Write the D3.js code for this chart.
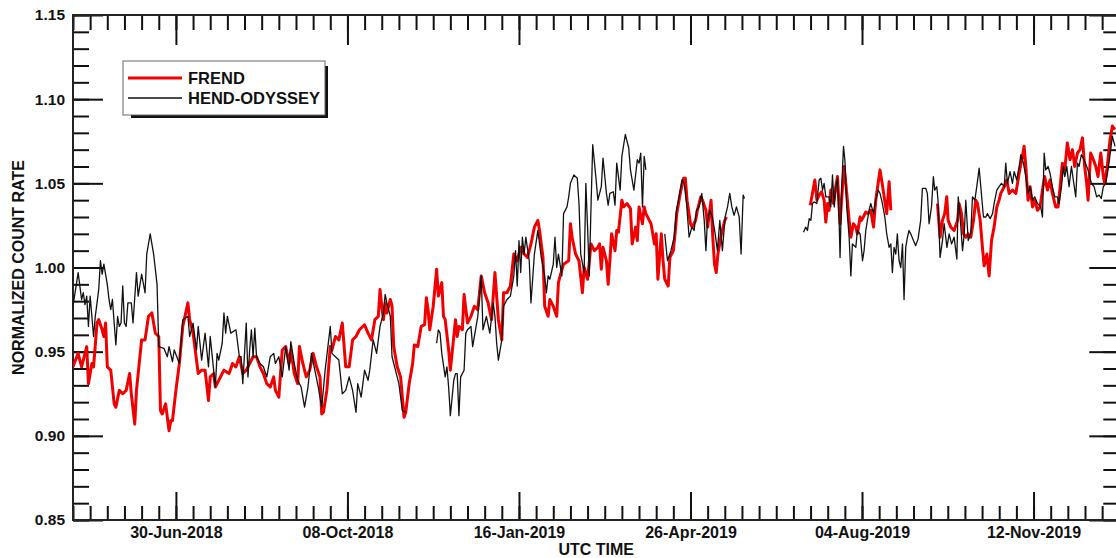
<!DOCTYPE html>
<html>
<head>
<meta charset="utf-8">
<script src="https://cdn.jsdelivr.net/npm/d3@7"></script>
<style>
  body { margin: 0; background: #fff; }
  svg { display: block; font-family: "Liberation Sans", Arial, sans-serif; font-weight: bold; }
</style>
</head>
<body>
<svg width="1116" height="558"></svg>
<script>
// time range of the plot, days counted from startDay
const startDay = "2018-05-01";
const endDay = "2020-01-01";
const dateTicks = ["2018-06-30", "2018-10-08", "2019-01-16", "2019-04-26", "2019-08-04", "2019-11-12"];
const rateTicks = [0.85, 0.9, 0.95, 1.0, 1.05, 1.1, 1.15];

// [day, rate], [day, null] marks a data gap
const frend = [
  [0,0.941],[3,0.949],[5,0.941],[8,0.953],[9,0.931],[11,0.943],[12,0.941],[14,0.967],[15,0.969],[17,0.963],
  [18,0.959],[19,0.967],[20,0.941],[22,0.939],[24,0.919],[25,0.917],[27,0.927],[29,0.925],[31,0.927],[33,0.937],
  [34,0.925],[36,0.907],[37,0.927],[38,0.937],[40,0.957],[42,0.957],[44,0.971],[46,0.973],[48,0.961],[50,0.959],
  [51,0.915],[52,0.913],[54,0.919],[56,0.903],[57,0.909],[58,0.909],[60,0.927],[62,0.943],[64,0.965],[67,0.979],
  [68,0.969],[70,0.961],[73,0.937],[75,0.939],[77,0.939],[79,0.921],[80,0.935],[82,0.937],[83,0.929],[85,0.933],
  [88,0.939],[91,0.937],[93,0.943],[95,0.941],[97,0.947],[99,0.937],[101,0.939],[103,0.943],[105,0.947],[107,0.947],
  [109,0.941],[111,0.937],[113,0.931],[115,0.929],[117,0.935],[118,0.927],[120,0.923],[122,0.951],[124,0.953],[126,0.943],
  [127,0.951],[129,0.937],[131,0.931],[132,0.953],[134,0.943],[136,0.935],[138,0.939],[140,0.949],[142,0.941],[144,0.935],
  [145,0.913],[146,0.914],[148,0.927],[150,0.953],[151,0.951],[153,0.959],[155,0.957],[157,0.967],[159,0.941],[161,0.941],
  [163,0.957],[165,0.959],[167,0.963],[170,0.966],[172,0.961],[174,0.957],[176,0.969],[178,0.971],[179,0.987],[180,0.977],
  [181,0.969],[182,0.979],[183,0.973],[185,0.981],[186,0.977],[187,0.953],[189,0.941],[191,0.935],[193,0.911],[194,0.914],
  [196,0.931],[198,0.943],[199,0.954],[201,0.953],[203,0.965],[205,0.966],[206,0.982],[207,0.975],[208,0.963],[210,0.977],
  [212,0.999],[213,0.983],[215,0.991],[216,0.971],[217,0.969],[219,0.951],[220,0.939],[221,0.949],[223,0.969],[224,0.959],
  [225,0.965],[227,0.963],[228,0.984],[230,0.967],[232,0.971],[234,0.977],[236,0.975],[238,0.995],[240,0.985],[242,0.979],
  [244,0.969],[246,0.997],[248,0.969],[250,0.957],[251,0.985],[253,0.985],[255,0.989],[257,1.008],[259,1.004],[261,1.012],
  [263,1.008],[265,1.006],[267,1.014],[269,1.024],[271,1.028],[272,1.022],[274,1.006],[275,0.977],[277,0.971],[278,0.981],
  [280,0.977],[282,0.971],[283,0.991],[284,0.995],[286,1.002],[289,1.004],[290,1.026],[291,1.018],[293,1.008],[295,1.004],
  [297,0.985],[298,1.0],[300,0.993],[302,1.014],[304,1.01],[306,1.012],[307,1.014],[308,0.999],[309,1.012],[311,1.004],
  [312,0.99],[313,1.004],[314,1.02],[316,1.01],[317,1.022],[318,1.021],[320,1.04],[321,1.036],[323,1.038],[325,1.035],
  [326,1.014],[328,1.024],[329,1.016],[330,1.036],[332,1.026],[333,1.036],[334,1.032],[336,1.028],[337,1.026],[339,1.014],
  [340,1.02],[341,0.993],[343,1.02],[344,1.004],[345,0.993],[347,0.989],[348,1.006],[350,1.01],[351,1.02],[352,1.032],
  [354,1.044],[356,1.053],[357,1.053],[358,1.04],[360,1.026],[361,1.024],[363,1.028],[364,1.034],[366,1.042],[367,1.04],
  [369,1.034],[370,1.024],[372,1.04],[373,1.018],[374,1.002],[375,0.997],[376,1.008],[378,1.02],[379,1.024],[380,1.028],
  [381,1.03],[382,null],
  [429.8,1.037],[431.1,1.044],[432.5,1.052],[433.7,1.04],[435,1.043],[436.4,1.045],[437.9,1.04],[438.9,1.027],[439.9,1.038],[440.8,1.034],
  [441.8,1.046],[443.4,1.038],[444.7,1.048],[445.7,1.054],[447.2,1.026],[448.6,1.048],[449.6,1.06],[451.1,1.044],[452.5,1.028],[453.5,1.018],
  [455,1.026],[456.4,1.024],[457.3,1.02],[458.9,1.03],[459.7,1.028],[460.8,1.03],[462.2,1.033],[463.6,1.032],[465.1,1.034],[466.7,1.024],
  [468,1.04],[469.4,1.05],[470.5,1.058],[471.9,1.049],[472.9,1.042],[474.4,1.032],[475.8,1.051],[476.8,1.034],[477.5,null],
  [504,1.038],[505.5,1.018],[506.9,1.028],[508.2,1.032],[509.4,1.042],[510.2,1.028],[511.8,1.024],[513.7,1.022],[515.7,1.028],[516.6,1.038],
  [518,1.032],[519.2,1.02],[520.5,1.018],[521.9,1.02],[523.4,1.018],[525,1.028],[526.3,1.04],[527.3,1.038],[528.9,1.028],[530.2,1.012],
  [531.2,1.001],[532.8,1.008],[534.1,0.995],[535.5,1.016],[537,1.024],[538.6,1.036],[539.9,1.04],[540.9,1.044],[542.9,1.048],[544.4,1.052],
  [545.8,1.044],[547.7,1.046],[549.7,1.044],[551.6,1.056],[553.5,1.066],[554.5,1.072],[555.5,1.06],[556.8,1.04],[558,1.048],[559.4,1.036],
  [560.7,1.04],[562.3,1.034],[563.8,1.036],[565.2,1.046],[566.5,1.054],[568.1,1.046],[569.6,1.052],[571,1.044],[572.9,1.036],[574.3,1.036],
  [575.5,1.048],[576.8,1.062],[578.2,1.058],[579.7,1.074],[581.3,1.064],[582.7,1.07],[584,1.06],[585.6,1.068],[587.1,1.07],[588.5,1.077],
  [589.8,1.06],[591,1.05],[591.8,1.04],[593.3,1.068],[594.9,1.064],[596.3,1.06],[597.6,1.054],[599.2,1.068],[600.7,1.054],[601.5,1.05],
  [603,1.06],[604.6,1.076],[606,1.084],[607.5,1.082]
];

const hendOdyssey = [
  [0,0.977],[3,0.997],[5,0.981],[6,0.985],[7,0.978],[8,0.983],[9,0.965],[10,0.983],[12,0.959],[13,0.971],
  [15,0.987],[16,1.004],[17,0.996],[18,1.002],[20,0.99],[21,0.981],[22,0.975],[23,0.981],[24,0.967],[25,0.954],
  [26,0.971],[27,0.965],[28,0.967],[29,0.989],[30,0.967],[31,0.965],[32,0.979],[34,0.979],[35,0.967],[37,0.997],
  [38,0.983],[40,0.996],[42,0.985],[43,1.008],[45,1.02],[47,1.008],[49,0.99],[50,0.953],[53,0.952],[55,0.947],
  [56,0.953],[58,0.944],[59,0.951],[62,0.943],[64,0.969],[67,0.971],[68,0.959],[70,0.967],[72,0.951],[73,0.965],
  [75,0.945],[77,0.961],[79,0.941],[80,0.959],[82,0.939],[83,0.929],[84,0.949],[85,0.945],[87,0.955],[88,0.973],
  [89,0.961],[90,0.971],[92,0.961],[95,0.963],[97,0.947],[98,0.947],[99,0.931],[101,0.967],[102,0.935],[103,0.951],
  [104,0.963],[105,0.947],[106,0.964],[107,0.947],[109,0.943],[111,0.941],[113,0.935],[115,0.947],[117,0.949],[118,0.943],
  [120,0.947],[122,0.935],[124,0.953],[126,0.939],[127,0.956],[129,0.943],[131,0.933],[133,0.929],[135,0.917],[137,0.929],
  [139,0.949],[141,0.939],[143,0.929],[145,0.917],[147,0.939],[150,0.965],[151,0.949],[153,0.947],[155,0.945],[157,0.925],
  [159,0.927],[161,0.935],[163,0.927],[165,0.914],[166,0.931],[168,0.923],[170,0.939],[172,0.933],[173,0.939],[175,0.957],
  [177,0.949],[179,0.965],[181,0.973],[182,0.984],[183,0.979],[185,0.971],[186,0.947],[188,0.939],[190,0.931],[192,0.915],
  [194,0.914],[195,null],
  [212,0.955],[213,0.963],[214,0.961],[215,0.949],[217,0.935],[218,0.941],[219,0.929],[220,0.912],[222,0.933],[223,0.937],
  [224,0.937],[225,0.912],[226,0.935],[228,0.939],[229,0.961],[230,0.963],[232,0.965],[233,0.953],[235,0.965],[236,0.971],
  [238,0.995],[239,0.963],[241,0.971],[243,0.961],[245,0.979],[246,0.971],[247,0.955],[248,0.945],[250,0.957],[251,0.977],
  [253,0.981],[255,0.983],[257,0.995],[258,1.01],[259,0.989],[260,1.016],[261,0.997],[262,1.018],[263,1.008],[264,1.018],
  [266,1.004],[267,0.979],[269,1.008],[271,1.022],[273,1.006],[275,0.995],[276,0.985],[277,0.995],[278,0.993],[280,1.002],
  [281,1.018],[282,1.0],[283,1.008],[285,0.995],[286,1.032],[288,1.036],[289,1.042],[290,1.05],[292,1.055],[294,1.053],
  [295,1.038],[296,1.008],[298,0.997],[299,1.05],[300,1.024],[301,0.995],[302,1.036],[303,1.073],[305,1.052],[306,1.04],
  [308,1.048],[309,1.065],[311,1.044],[312,1.037],[313,1.044],[315,1.045],[316,1.037],[317,1.062],[319,1.046],[320,1.066],
  [322,1.079],[324,1.071],[325,1.058],[327,1.046],[329,1.064],[330,1.062],[331,1.068],[332,1.036],[333,1.066],[334,1.058],
  [335,null],
  [345,1.02],[346.6,1.004],[348.6,1.01],[350.5,1.018],[351.8,1.034],[353.4,1.042],[355,1.052],[356.3,1.05],[357.7,1.038],[359.2,1.018],
  [360.8,1.024],[362.1,1.022],[363.5,1.034],[365,1.036],[366.6,1.044],[368,1.028],[369,1.01],[369.9,1.028],[371.3,1.034],[372.8,1.03],
  [374.4,1.02],[375.7,1.01],[377.1,1.028],[378.6,1.01],[380.2,1.03],[381.6,1.036],[382.9,1.044],[384.1,1.036],[385.4,1.031],[386.8,1.036],
  [388.4,1.03],[389.5,1.008],[390.7,1.043],[391.5,1.041],[392,null],
  [425.9,1.021],[427.2,1.024],[428.2,1.022],[429.2,1.029],[430.2,1.028],[431.1,1.038],[432.1,1.039],[433.7,1.038],[435,1.052],[436,1.053],
  [437,1.046],[437.9,1.05],[438.9,1.042],[440.8,1.042],[441.8,1.036],[442.8,1.055],[443.8,1.036],[444.7,1.048],[445.7,1.053],[446.7,1.026],
  [447.2,1.006],[448.2,1.048],[449.2,1.072],[450,1.064],[451.1,1.036],[452.5,1.018],[453.5,0.995],[454.4,1.014],[456.4,1.012],[457.3,1.022],
  [458.9,1.02],[460.3,1.004],[461.2,1.01],[462.2,1.022],[464.1,1.034],[465.1,1.038],[466.7,1.032],[468,1.04],[469.4,1.046],[470.5,1.044],
  [471.9,1.038],[473.3,1.03],[474.4,1.02],[475.8,1.012],[476.8,1.014],[477.7,0.997],[478.7,1.012],[479.7,1.008],[480.6,1.02],[481.6,1.004],
  [482.6,1.0],[483.6,1.014],[484.5,0.981],[485.5,1.012],[486.5,1.018],[487.4,1.022],[488.4,1.02],[490,1.016],[491.3,1.013],[492.7,1.017],
  [494.2,1.028],[495.2,1.047],[497.2,1.047],[498.1,1.044],[499.1,1.026],[500.5,1.036],[501.6,1.054],[502.4,1.046],[503.6,1.048],[504.3,1.04],
  [505.5,1.006],[506.9,1.016],[507.9,1.026],[509.5,1.012],[510.8,1.02],[512.2,1.014],[513.7,1.018],[515.3,1.005],[516.1,1.042],[517.2,1.03],
  [518.6,1.01],[519.6,1.02],[520.5,1.04],[521.9,1.016],[523.4,1.02],[524.4,1.042],[525.8,1.04],[526.9,1.048],[528.3,1.059],[529.6,1.044],
  [530.8,1.03],[532.2,1.03],[533.1,1.032],[534.7,1.029],[536.1,1.032],[537,1.038],[538.6,1.046],[539.9,1.048],[541.3,1.05],[542.9,1.048],
  [543.8,1.062],[544.8,1.05],[546.3,1.057],[547.7,1.05],[548.7,1.057],[550.2,1.052],[551.6,1.06],[552.6,1.067],[554.1,1.062],[555.5,1.054],
  [556.8,1.044],[558,1.048],[559.4,1.04],[560.7,1.042],[562.3,1.038],[564.2,1.036],[565.2,1.03],[566.2,1.068],[567.1,1.058],[568.5,1.06],
  [569.6,1.056],[571,1.048],[572.4,1.042],[573.9,1.042],[574.9,1.038],[576.3,1.048],[577.4,1.06],[578.2,1.054],[579.4,1.06],[580.7,1.048],
  [582.1,1.06],[583.2,1.052],[584.6,1.042],[585.6,1.062],[586.5,1.06],[587.9,1.067],[589.5,1.064],[591,1.06],[592.4,1.056],[593.7,1.05],
  [595.3,1.048],[596.8,1.042],[598.2,1.043],[599.5,1.041],[600.7,1.048],[602.1,1.05],[603.4,1.058],[605,1.07],[605.9,1.078],[607.5,1.072]
];

const svg = d3.select("svg");

const plotLeft = 73, plotRight = 1119.3, plotTop = 15, plotBottom = 520;
const t0 = new Date(startDay);
const toDate = (day) => new Date(+t0 + day * 864e5);

const x = d3.scaleUtc().domain([t0, new Date(endDay)]).range([plotLeft, plotRight]);
const y = d3.scaleLinear().domain([0.85, 1.15]).range([plotBottom, plotTop]);

const majorDates = dateTicks.map((s) => new Date(s));
const minorDates = d3.utcDay.range(t0, toDate(611), 10);
const minorRates = d3.range(85, 116).map((v) => v / 100);
const fmtDate = d3.utcFormat("%d-%b-%Y");

function styleAxis(g) {
  g.select(".domain").remove();
  g.selectAll("line").attr("stroke", "#111").attr("stroke-width", 2);
  g.selectAll("text").attr("fill", "#111").style("font-size", "16px").style("font-weight", "bold");
}

// bottom
svg.append("g").attr("transform", `translate(0,${plotBottom})`)
  .call(d3.axisBottom(x).tickValues(minorDates).tickSize(-14).tickFormat(""))
  .call(styleAxis);
svg.append("g").attr("transform", `translate(0,${plotBottom})`)
  .call(d3.axisBottom(x).tickValues(majorDates).tickSize(-28).tickPadding(7).tickFormat(fmtDate))
  .call(styleAxis);
// top
svg.append("g").attr("transform", `translate(0,${plotTop})`)
  .call(d3.axisTop(x).tickValues(minorDates).tickSize(-15).tickFormat(""))
  .call(styleAxis);
svg.append("g").attr("transform", `translate(0,${plotTop})`)
  .call(d3.axisTop(x).tickValues(majorDates).tickSize(-30).tickFormat(""))
  .call(styleAxis);
// left
svg.append("g").attr("transform", `translate(${plotLeft},0)`)
  .call(d3.axisLeft(y).tickValues(minorRates).tickSize(-16).tickFormat(""))
  .call(styleAxis);
svg.append("g").attr("transform", `translate(${plotLeft},0)`)
  .call(d3.axisLeft(y).tickValues(rateTicks).tickSize(-30).tickPadding(8).tickFormat(d3.format(".2f")))
  .call(styleAxis)
  .selectAll("text").style("font-size", "15.5px");
// right
svg.append("g").attr("transform", `translate(${plotRight},0)`)
  .call(d3.axisRight(y).tickValues(minorRates).tickSize(-16).tickFormat(""))
  .call(styleAxis);
svg.append("g").attr("transform", `translate(${plotRight},0)`)
  .call(d3.axisRight(y).tickValues(rateTicks).tickSize(-30).tickFormat(""))
  .call(styleAxis);

svg.append("rect")
  .attr("x", plotLeft).attr("y", plotTop)
  .attr("width", plotRight - plotLeft).attr("height", plotBottom - plotTop)
  .attr("fill", "none").attr("stroke", "#222").attr("stroke-width", 2);

svg.append("clipPath").attr("id", "plot-clip")
  .append("rect")
  .attr("x", plotLeft).attr("y", plotTop)
  .attr("width", plotRight - plotLeft).attr("height", plotBottom - plotTop);

const line = d3.line()
  .defined((d) => d[1] !== null)
  .x((d) => x(toDate(d[0])))
  .y((d) => y(d[1]));

const plot = svg.append("g").attr("clip-path", "url(#plot-clip)");

plot.append("path")
  .datum(frend)
  .attr("d", line)
  .attr("fill", "none")
  .attr("stroke", "#f00000")
  .attr("stroke-width", 3)
  .attr("stroke-linejoin", "round");

plot.append("path")
  .datum(hendOdyssey)
  .attr("d", line)
  .attr("fill", "none")
  .attr("stroke", "#111")
  .attr("stroke-width", 1.3)
  .attr("stroke-linejoin", "round");

// legend
const legend = svg.append("g").attr("transform", "translate(123,61)");
legend.append("rect").attr("x", 8).attr("y", 5).attr("width", 197).attr("height", 52).attr("fill", "#111");
legend.append("rect").attr("x", 0).attr("y", 0).attr("width", 202).attr("height", 54)
  .attr("fill", "#fff").attr("stroke", "#666").attr("stroke-width", 1);

const legendItems = [
  { name: "FREND", color: "#f00000", width: 3 },
  { name: "HEND-ODYSSEY", color: "#111", width: 1.3 }
];

const items = legend.selectAll("g.item")
  .data(legendItems)
  .enter()
  .append("g")
  .attr("class", "item")
  .attr("transform", (_d, _i) => `translate(0, ${17 + _i * 20})`);

items.append("line")
  .attr("x1", 5).attr("x2", 59)
  .attr("stroke", (_d) => _d.color)
  .attr("stroke-width", (_d) => _d.width);

items.append("text")
  .attr("x", 65).attr("y", 6)
  .style("font-size", "16.5px")
  .attr("fill", "#111")
  .text((_d) => _d.name);

// axis titles
svg.append("text")
  .attr("x", (plotLeft + plotRight) / 2).attr("y", 555)
  .attr("text-anchor", "middle")
  .style("font-size", "16px")
  .attr("fill", "#111")
  .text("UTC TIME");

svg.append("text")
  .attr("transform", `translate(23.5, ${(plotTop + plotBottom) / 2}) rotate(-90)`)
  .attr("text-anchor", "middle")
  .style("font-size", "16px")
  .attr("fill", "#111")
  .text("NORMALIZED COUNT RATE");
</script>
</body>
</html>
